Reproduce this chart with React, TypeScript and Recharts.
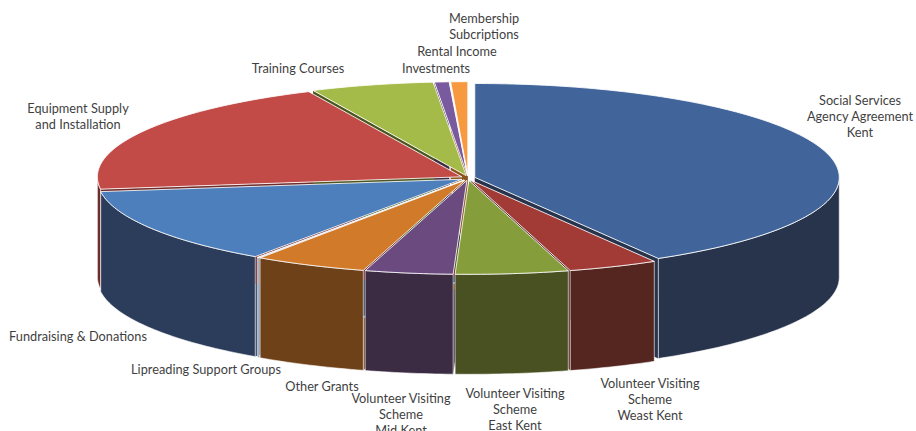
import React from "react";
import { PieChart, Pie } from "recharts";

const categories = [
  ["Social Services", "Agency Agreement", "Kent"],
  ["Volunteer Visiting", "Scheme", "Weast Kent"],
  ["Volunteer Visiting", "Scheme", "East Kent"],
  ["Volunteer Visiting", "Scheme", "Mid Kent"],
  ["Other Grants"],
  ["Lipreading Support Groups"],
  ["Fundraising & Donations"],
  ["Equipment Supply", "and Installation"],
  ["Training Courses"],
  ["Investments"],
  ["Rental Income"],
  ["Membership", "Subcriptions"],
];
const values = [41.6, 4.0, 5.0, 3.9, 5.0, 0.1, 13.3, 20.2, 5.45, 0.65, 0.05, 0.75];
const topColors = ["#41659b", "#a23a36", "#859d3a", "#6b4a80", "#d17a2a", "#dfe6f0", "#4d7fbc", "#c24a47", "#a5bb49", "#7a5a9e", "#ffffff", "#f79a3f"];
const wallColors = ["#28344c", "#552620", "#495122", "#3b2b43", "#6f4118", "#8d9cb8", "#2c3d5c", "#6e2c2b", "#4c5620", "#3b2b43", "#ffffff", "#8a5520"];
const labelCenters = [860, 650, 515, 401, 322, 206, 78, 78, 298, 436, 457, 484];
const labelTops = [100, 383, 393, 398, 386, 369, 336, 108, 68, 68, 51, 18];

const data = categories.map((c, i) => ({ name: c.join(" "), value: values[i] }));

const CX = 468;
const CY = 178;
const RX = 364.5;
const SQUASH = 94 / 365;
const DEPTH = 100;
const EXPLODE = 7;
const RAD = Math.PI / 180;

function geometry(p: any) {
  const mid = ((p.startAngle + p.endAngle) / 2) * RAD;
  const ox = p.cx + EXPLODE * Math.cos(mid);
  const oy = p.cy - EXPLODE * 0.35 * Math.sin(mid);
  const at = (deg: number, dy = 0): [number, number] => [
    ox + p.outerRadius * Math.cos(deg * RAD),
    oy - p.outerRadius * SQUASH * Math.sin(deg * RAD) + dy,
  ];
  return { ox, oy, at };
}
const toPath = (pts: [number, number][]) =>
  "M" + pts.map(([x, y]) => `${x.toFixed(2)},${y.toFixed(2)}`).join("L") + "Z";

function arcPoints(from: number, to: number, at: (d: number, dy?: number) => [number, number], dy = 0) {
  const n = Math.max(1, Math.ceil(Math.abs(from - to)));
  const pts: [number, number][] = [];
  for (let k = 0; k <= n; k++) pts.push(at(from + ((to - from) * k) / n, dy));
  return pts;
}

function FaceShape(p: any) {
  const { ox, oy, at } = geometry(p);
  const faces: [number, number][][] = [];
  const face = (deg: number) => {
    const [x, y] = at(deg);
    faces.push([[ox, oy], [x, y], [x, y + DEPTH], [ox, oy + DEPTH]]);
  };
  if (Math.cos(p.endAngle * RAD) > 0) face(p.endAngle);
  if (Math.cos(p.startAngle * RAD) < 0) face(p.startAngle);
  return (
    <g>
      {faces.map((f, i) => (
        <path key={i} d={toPath(f)} fill={wallColors[p.index]} />
      ))}
    </g>
  );
}

function WallShape(p: any) {
  const { at } = geometry(p);
  // normalise the slice to angles in which the front half is 180..360
  let hi = p.startAngle;
  let lo = p.endAngle;
  while (lo < 0) {
    lo += 360;
    hi += 360;
  }
  const paths: string[] = [];
  for (const [a, b] of [[180, 360], [540, 720]]) {
    const from = Math.min(hi, b);
    const to = Math.max(lo, a);
    if (from > to) {
      const top = arcPoints(from, to, at);
      const bottom = arcPoints(to, from, at, DEPTH);
      paths.push(toPath([...top, ...bottom]));
    }
  }
  return (
    <g>
      {paths.map((d, i) => (
        <path key={i} d={d} fill={wallColors[p.index]} stroke="#ffffff" strokeOpacity={0.75} strokeWidth={0.8} />
      ))}
    </g>
  );
}

function TopShape(p: any) {
  const { ox, oy, at } = geometry(p);
  const pts: [number, number][] = [[ox, oy], ...arcPoints(p.startAngle, p.endAngle, at)];
  return <path d={toPath(pts)} fill={topColors[p.index]} stroke="#ffffff" strokeWidth={1} strokeOpacity={0.85} />;
}

function renderLabel(p: any) {
  const i = p.index;
  return (
    <text
      key={i}
      x={labelCenters[i]}
      y={labelTops[i] + 4.6}
      textAnchor="middle"
      fontFamily="Lato, 'Open Sans', sans-serif"
      fontSize={12.75}
      fill="#3f3f3f"
    >
      {categories[i].map((line, k) => (
        <tspan key={k} x={labelCenters[i]} dy={k === 0 ? 0 : 16.3}>
          {line}
        </tspan>
      ))}
    </text>
  );
}

const pieProps = {
  data,
  dataKey: "value",
  nameKey: "name",
  cx: CX,
  cy: CY,
  outerRadius: RX,
  innerRadius: 0,
  startAngle: 90,
  endAngle: -270,
  isAnimationActive: false,
  stroke: "none",
};

export default function App() {
  return (
    <div style={{ position: "absolute", left: 0, top: 0, width: 916, height: 431, overflow: "hidden", background: "#fff" }}>
      <PieChart width={916} height={431} margin={{ top: 0, right: 0, bottom: 0, left: 0 }}>
        <Pie {...pieProps} shape={FaceShape} />
        <Pie {...pieProps} shape={WallShape} />
        <Pie {...pieProps} shape={TopShape} label={renderLabel} labelLine={false} />
      </PieChart>
    </div>
  );
}
